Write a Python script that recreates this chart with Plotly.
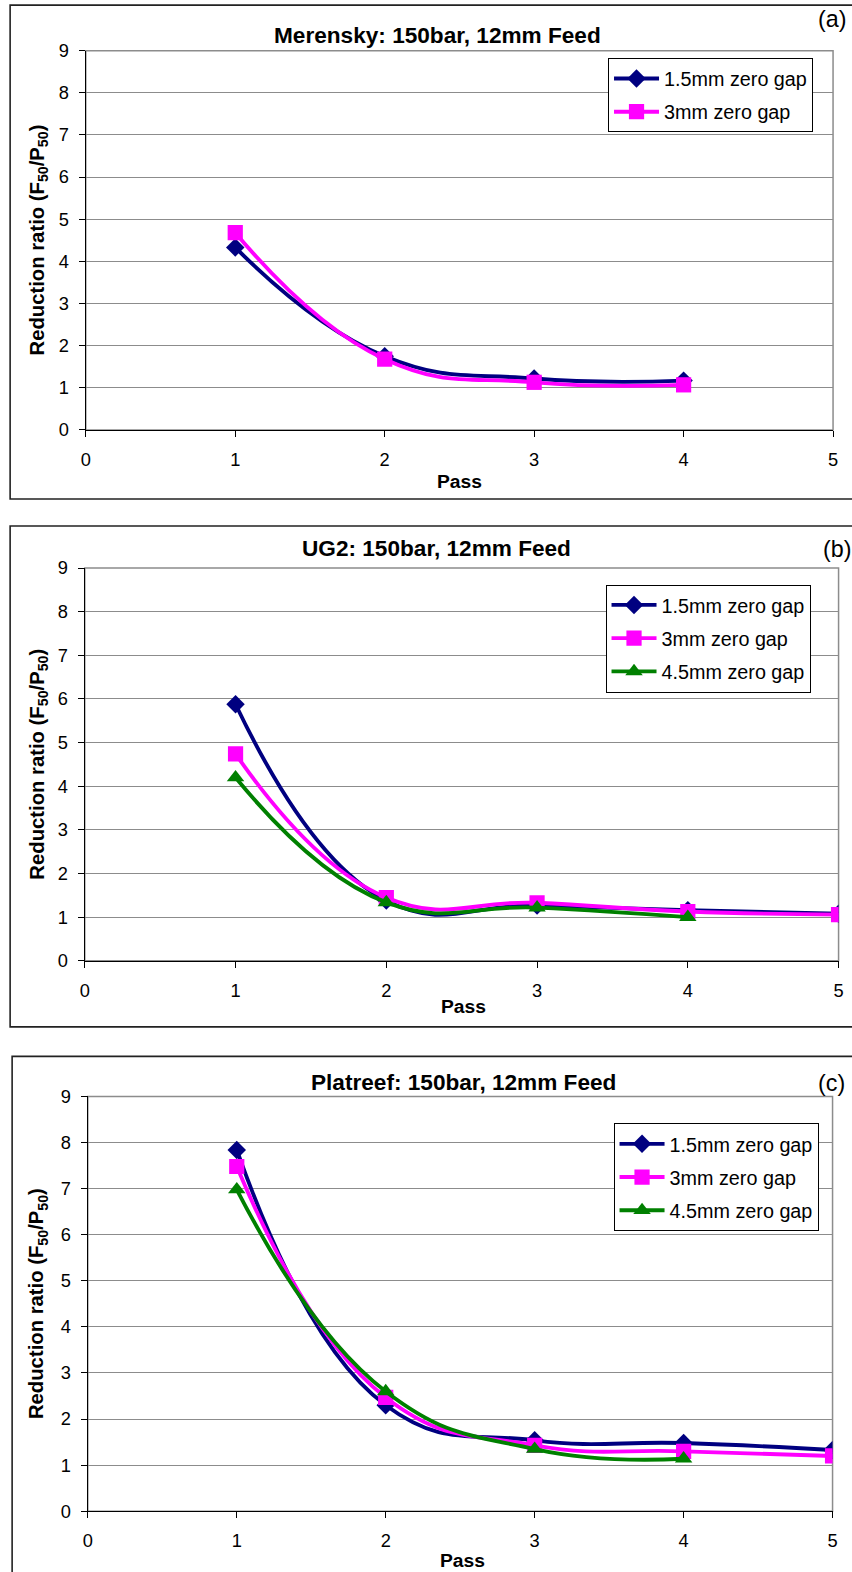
import plotly.graph_objects as go

# ---- data -------------------------------------------------------------
series_names = ["1.5mm zero gap", "3mm zero gap", "4.5mm zero gap"]

merensky_pass = [1, 2, 3, 4]
merensky_15 = [4.33, 1.75, 1.22, 1.17]
merensky_30 = [4.68, 1.68, 1.13, 1.07]

ug2_pass = [1, 2, 3, 4, 5]
ug2_15 = [5.88, 1.38, 1.27, 1.16, 1.08]
ug2_30 = [4.74, 1.45, 1.33, 1.13, 1.06]
ug2_45_pass = [1, 2, 3, 4]
ug2_45 = [4.20, 1.34, 1.22, 1.00]

platreef_pass = [1, 2, 3, 4, 5]
platreef_15 = [7.84, 2.30, 1.54, 1.48, 1.33]
platreef_30 = [7.48, 2.47, 1.43, 1.30, 1.20]
platreef_45_pass = [1, 2, 3, 4]
platreef_45 = [6.98, 2.60, 1.35, 1.14]

titles = ["Merensky: 150bar, 12mm Feed", "UG2: 150bar, 12mm Feed", "Platreef: 150bar, 12mm Feed"]
tags = ["(a)", "(b)", "(c)"]
x_ticks = [0, 1, 2, 3, 4, 5]
y_ticks = list(range(0, 10))

# ---- page geometry ----------------------------------------------------
K = 0.986        # rendered size of one layout pixel on the final page
BODY = 8         # default body margin of the html page
DX, DY = 2, -4   # fine offset of the whole layout on the page
W, H = 856, 1586
FONT = "Liberation Sans, Arial, sans-serif"


def fx(v):
    """page x position -> paper fraction"""
    return ((v + DX) / K - BODY) / W


def fy(v):
    """page y position -> paper fraction"""
    return 1 - ((v + DY) / K - BODY) / H


def sz(v):
    return v / K


styles = [
    dict(color="#000080", symbol="diamond", size=14),
    dict(color="#FF00FF", symbol="square", size=15),
    dict(color="#008000", symbol="triangle-up", size=15),
]

# panel geometry: plot area (left, right, top, bottom), frame (left, top, bottom)
panels = [
    dict(plot=(86.5, 832, 51.5, 430.5), frame=(11, 6, 499.5), legend=(607.5, 59),
         title=(437, 36), tag=(831, 20), pass_xy=(459, 482)),
    dict(plot=(85.5, 837.5, 568.5, 961), frame=(11, 526.5, 1027), legend=(605, 585),
         title=(436, 549), tag=(836, 549), pass_xy=(463, 1007)),
    dict(plot=(88.5, 831.5, 1096.5, 1511), frame=(13, 1056.5, 1600), legend=(613, 1123.5),
         title=(463, 1083), tag=(830, 1083), pass_xy=(462, 1560)),
]

data_sets = [
    [(merensky_pass, merensky_15), (merensky_pass, merensky_30)],
    [(ug2_pass, ug2_15), (ug2_pass, ug2_30), (ug2_45_pass, ug2_45)],
    [(platreef_pass, platreef_15), (platreef_pass, platreef_30), (platreef_45_pass, platreef_45)],
]

fig = go.Figure()
layout = dict(
    width=W, height=H,
    margin=dict(l=0, r=0, t=0, b=0),
    paper_bgcolor="white", plot_bgcolor="white",
    font=dict(family=FONT, size=sz(18), color="black"),
    shapes=[], annotations=[],
)


def label(text, x, y, size, angle=0):
    return dict(text=text, x=fx(x), y=fy(y), xref="paper", yref="paper",
                xanchor="center", yanchor="middle", showarrow=False, textangle=angle,
                font=dict(size=sz(size), family=FONT, color="black"))


for i, (panel, sets) in enumerate(zip(panels, data_sets)):
    n = i + 1
    xa = "x" if n == 1 else f"x{n}"
    ya = "y" if n == 1 else f"y{n}"
    lg = "legend" if n == 1 else f"legend{n}"
    l, r, t, b = panel["plot"]

    for j, (xs, ys) in enumerate(sets):
        st = styles[j]
        fig.add_trace(go.Scatter(
            x=xs, y=ys, name=series_names[j], mode="lines+markers",
            line=dict(color=st["color"], width=sz(3.8), shape="spline", smoothing=1.3),
            marker=dict(color=st["color"], symbol=st["symbol"], size=sz(st["size"])),
            xaxis=xa, yaxis=ya, legend=lg, legendgroup=f"{n}-{j}",
        ))

    layout["xaxis" if n == 1 else f"xaxis{n}"] = dict(
        domain=[fx(l), fx(r)], range=[0, 5], anchor=ya,
        tickvals=x_ticks, ticks="outside", ticklen=6, tickcolor="black",
        ticklabelstandoff=7,
        showline=True, linecolor="black", linewidth=1.3,
        showgrid=False, zeroline=False, fixedrange=True,
        tickfont=dict(size=sz(18), family=FONT),
    )
    layout["yaxis" if n == 1 else f"yaxis{n}"] = dict(
        domain=[fy(b), fy(t)], range=[0, 9], anchor=xa,
        tickvals=y_ticks, ticks="outside", ticklen=6, tickcolor="black",
        ticklabelstandoff=6,
        showline=True, linecolor="black", linewidth=1.3,
        showgrid=True, gridcolor="#8c8c8c", gridwidth=1,
        zeroline=False, fixedrange=True,
        tickfont=dict(size=sz(18), family=FONT),
    )
    lx, ly = panel["legend"]
    layout[lg] = dict(
        x=fx(lx), y=fy(ly), xanchor="left", yanchor="top",
        xref="paper", yref="paper",
        bgcolor="white", bordercolor="black", borderwidth=1,
        font=dict(size=sz(19.5), family=FONT), tracegroupgap=4.5,
        itemwidth=45,
    )

    # gray plot-area border (top and right)
    layout["shapes"].append(dict(
        type="rect", xref="paper", yref="paper", layer="below",
        x0=fx(l), x1=fx(r), y0=fy(b), y1=fy(t),
        line=dict(color="#8c8c8c", width=1.5),
    ))
    # outer chart frame
    fl, ft, fb = panel["frame"]
    layout["shapes"].append(dict(
        type="rect", xref="paper", yref="paper",
        x0=fx(fl), x1=fx(880), y0=fy(fb), y1=fy(ft),
        line=dict(color="#222222", width=1.6),
    ))

    layout["annotations"] += [
        label(f"<b>{titles[i]}</b>", *panel["title"], 22.3),
        label(tags[i], *panel["tag"], 23),
        label("<b>Pass</b>", *panel["pass_xy"], 19),
        label("<b>Reduction ratio (F<sub>50</sub>/P<sub>50</sub>)</b>", 39, (t + b) / 2, 20, -90),
    ]

fig.update_layout(**layout)
fig.write_html("out.html")
